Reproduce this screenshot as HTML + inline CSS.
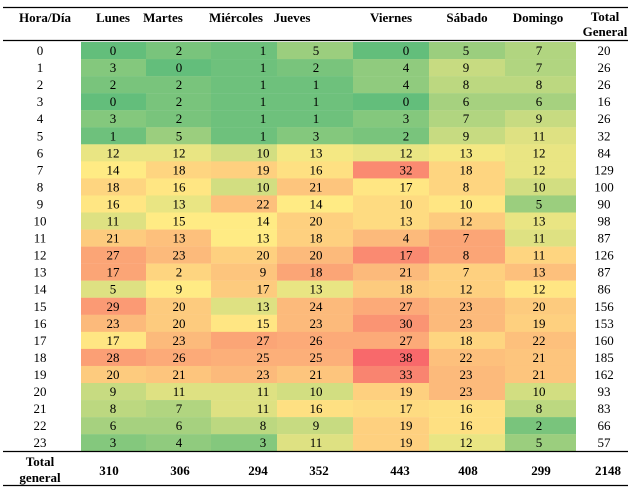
<!DOCTYPE html>
<html><head><meta charset="utf-8"><style>
body{margin:0;background:#fff}
svg{display:block;font-family:"Liberation Serif",serif;font-size:13px}
.h{font-weight:bold}
.v0{fill:rgb(99,190,123)}.v1{fill:rgb(110,193,124)}.v2{fill:rgb(121,196,124)}.v3{fill:rgb(132,200,125)}.v4{fill:rgb(144,203,126)}.v5{fill:rgb(155,206,126)}.v6{fill:rgb(166,209,127)}.v7{fill:rgb(177,213,128)}.v8{fill:rgb(188,216,128)}.v9{fill:rgb(199,219,129)}.v10{fill:rgb(210,222,129)}.v11{fill:rgb(222,225,130)}.v12{fill:rgb(233,229,131)}.v13{fill:rgb(244,232,131)}.v14{fill:rgb(255,235,132)}.v15{fill:rgb(255,230,131)}.v16{fill:rgb(254,224,130)}.v17{fill:rgb(254,219,129)}.v18{fill:rgb(254,213,128)}.v19{fill:rgb(254,208,127)}.v20{fill:rgb(253,203,126)}.v21{fill:rgb(253,197,125)}.v22{fill:rgb(253,192,124)}.v23{fill:rgb(252,186,123)}.v24{fill:rgb(252,181,122)}.v25{fill:rgb(252,175,121)}.v26{fill:rgb(252,170,120)}.v27{fill:rgb(251,165,118)}.v28{fill:rgb(251,159,117)}.v29{fill:rgb(251,154,116)}.v30{fill:rgb(250,148,115)}.v32{fill:rgb(250,138,113)}.v33{fill:rgb(249,132,112)}.v38{fill:rgb(248,105,107)}
</style></head><body>
<svg width="631" height="490" viewBox="0 0 631 490">
<g class="h" text-anchor="middle">
<text x="45" y="22">Hora/Día</text><text x="113" y="22">Lunes</text><text x="163" y="22">Martes</text><text x="236" y="22">Miércoles</text><text x="292" y="22">Jueves</text><text x="391" y="22">Viernes</text><text x="467" y="22">Sábado</text><text x="538" y="22">Domingo</text><text x="605" y="21">Total</text><text x="605" y="36">General</text>
</g>
<g text-anchor="middle">
<g transform="translate(0,42)"><rect class="v0" x="81" width="65" height="17.2"/><rect class="v2" x="146" width="65" height="17.2"/><rect class="v1" x="211" width="66" height="17.2"/><rect class="v5" x="277" width="76" height="17.2"/><rect class="v0" x="353" width="76" height="17.2"/><rect class="v5" x="429" width="76" height="17.2"/><rect class="v7" x="505" width="71" height="17.2"/><text x="40" y="13">0</text><text x="113" y="13">0</text><text x="179" y="13">2</text><text x="263" y="13">1</text><text x="316" y="13">5</text><text x="406" y="13">0</text><text x="466" y="13">5</text><text x="539" y="13">7</text><text x="604" y="13">20</text></g>
<g transform="translate(0,59.05)"><rect class="v3" x="81" width="65" height="17.2"/><rect class="v0" x="146" width="65" height="17.2"/><rect class="v1" x="211" width="66" height="17.2"/><rect class="v2" x="277" width="76" height="17.2"/><rect class="v4" x="353" width="76" height="17.2"/><rect class="v9" x="429" width="76" height="17.2"/><rect class="v7" x="505" width="71" height="17.2"/><text x="40" y="13">1</text><text x="113" y="13">3</text><text x="179" y="13">0</text><text x="263" y="13">1</text><text x="316" y="13">2</text><text x="406" y="13">4</text><text x="466" y="13">9</text><text x="539" y="13">7</text><text x="604" y="13">26</text></g>
<g transform="translate(0,76.1)"><rect class="v2" x="81" width="65" height="17.2"/><rect class="v2" x="146" width="65" height="17.2"/><rect class="v1" x="211" width="66" height="17.2"/><rect class="v1" x="277" width="76" height="17.2"/><rect class="v4" x="353" width="76" height="17.2"/><rect class="v8" x="429" width="76" height="17.2"/><rect class="v8" x="505" width="71" height="17.2"/><text x="40" y="13">2</text><text x="113" y="13">2</text><text x="179" y="13">2</text><text x="263" y="13">1</text><text x="316" y="13">1</text><text x="406" y="13">4</text><text x="466" y="13">8</text><text x="539" y="13">8</text><text x="604" y="13">26</text></g>
<g transform="translate(0,93.15)"><rect class="v0" x="81" width="65" height="17.2"/><rect class="v2" x="146" width="65" height="17.2"/><rect class="v1" x="211" width="66" height="17.2"/><rect class="v1" x="277" width="76" height="17.2"/><rect class="v0" x="353" width="76" height="17.2"/><rect class="v6" x="429" width="76" height="17.2"/><rect class="v6" x="505" width="71" height="17.2"/><text x="40" y="13">3</text><text x="113" y="13">0</text><text x="179" y="13">2</text><text x="263" y="13">1</text><text x="316" y="13">1</text><text x="406" y="13">0</text><text x="466" y="13">6</text><text x="539" y="13">6</text><text x="604" y="13">16</text></g>
<g transform="translate(0,110.2)"><rect class="v3" x="81" width="65" height="17.2"/><rect class="v2" x="146" width="65" height="17.2"/><rect class="v1" x="211" width="66" height="17.2"/><rect class="v1" x="277" width="76" height="17.2"/><rect class="v3" x="353" width="76" height="17.2"/><rect class="v7" x="429" width="76" height="17.2"/><rect class="v9" x="505" width="71" height="17.2"/><text x="40" y="13">4</text><text x="113" y="13">3</text><text x="179" y="13">2</text><text x="263" y="13">1</text><text x="316" y="13">1</text><text x="406" y="13">3</text><text x="466" y="13">7</text><text x="539" y="13">9</text><text x="604" y="13">26</text></g>
<g transform="translate(0,127.25)"><rect class="v1" x="81" width="65" height="17.2"/><rect class="v5" x="146" width="65" height="17.2"/><rect class="v1" x="211" width="66" height="17.2"/><rect class="v3" x="277" width="76" height="17.2"/><rect class="v2" x="353" width="76" height="17.2"/><rect class="v9" x="429" width="76" height="17.2"/><rect class="v11" x="505" width="71" height="17.2"/><text x="40" y="13">5</text><text x="113" y="13">1</text><text x="179" y="13">5</text><text x="263" y="13">1</text><text x="316" y="13">3</text><text x="406" y="13">2</text><text x="466" y="13">9</text><text x="539" y="13">11</text><text x="604" y="13">32</text></g>
<g transform="translate(0,144.3)"><rect class="v12" x="81" width="65" height="17.2"/><rect class="v12" x="146" width="65" height="17.2"/><rect class="v10" x="211" width="66" height="17.2"/><rect class="v13" x="277" width="76" height="17.2"/><rect class="v12" x="353" width="76" height="17.2"/><rect class="v13" x="429" width="76" height="17.2"/><rect class="v12" x="505" width="71" height="17.2"/><text x="40" y="13">6</text><text x="113" y="13">12</text><text x="179" y="13">12</text><text x="263" y="13">10</text><text x="316" y="13">13</text><text x="406" y="13">12</text><text x="466" y="13">13</text><text x="539" y="13">12</text><text x="604" y="13">84</text></g>
<g transform="translate(0,161.35)"><rect class="v14" x="81" width="65" height="17.2"/><rect class="v18" x="146" width="65" height="17.2"/><rect class="v19" x="211" width="66" height="17.2"/><rect class="v16" x="277" width="76" height="17.2"/><rect class="v32" x="353" width="76" height="17.2"/><rect class="v18" x="429" width="76" height="17.2"/><rect class="v12" x="505" width="71" height="17.2"/><text x="40" y="13">7</text><text x="113" y="13">14</text><text x="179" y="13">18</text><text x="263" y="13">19</text><text x="316" y="13">16</text><text x="406" y="13">32</text><text x="466" y="13">18</text><text x="539" y="13">12</text><text x="604" y="13">129</text></g>
<g transform="translate(0,178.4)"><rect class="v18" x="81" width="65" height="17.2"/><rect class="v15" x="146" width="65" height="17.2"/><rect class="v10" x="211" width="66" height="17.2"/><rect class="v21" x="277" width="76" height="17.2"/><rect class="v15" x="353" width="76" height="17.2"/><rect class="v18" x="429" width="76" height="17.2"/><rect class="v10" x="505" width="71" height="17.2"/><text x="40" y="13">8</text><text x="113" y="13">18</text><text x="179" y="13">16</text><text x="263" y="13">10</text><text x="316" y="13">21</text><text x="406" y="13">17</text><text x="466" y="13">8</text><text x="539" y="13">10</text><text x="604" y="13">100</text></g>
<g transform="translate(0,195.45)"><rect class="v15" x="81" width="65" height="17.2"/><rect class="v12" x="146" width="65" height="17.2"/><rect class="v22" x="211" width="66" height="17.2"/><rect class="v14" x="277" width="76" height="17.2"/><rect class="v17" x="353" width="76" height="17.2"/><rect class="v15" x="429" width="76" height="17.2"/><rect class="v5" x="505" width="71" height="17.2"/><text x="40" y="13">9</text><text x="113" y="13">16</text><text x="179" y="13">13</text><text x="263" y="13">22</text><text x="316" y="13">14</text><text x="406" y="13">10</text><text x="466" y="13">10</text><text x="539" y="13">5</text><text x="604" y="13">90</text></g>
<g transform="translate(0,212.5)"><rect class="v11" x="81" width="65" height="17.2"/><rect class="v14" x="146" width="65" height="17.2"/><rect class="v14" x="211" width="66" height="17.2"/><rect class="v19" x="277" width="76" height="17.2"/><rect class="v17" x="353" width="76" height="17.2"/><rect class="v20" x="429" width="76" height="17.2"/><rect class="v12" x="505" width="71" height="17.2"/><text x="40" y="13">10</text><text x="113" y="13">11</text><text x="179" y="13">15</text><text x="263" y="13">14</text><text x="316" y="13">20</text><text x="406" y="13">13</text><text x="466" y="13">12</text><text x="539" y="13">13</text><text x="604" y="13">98</text></g>
<g transform="translate(0,229.55)"><rect class="v20" x="81" width="65" height="17.2"/><rect class="v22" x="146" width="65" height="17.2"/><rect class="v14" x="211" width="66" height="17.2"/><rect class="v19" x="277" width="76" height="17.2"/><rect class="v23" x="353" width="76" height="17.2"/><rect class="v27" x="429" width="76" height="17.2"/><rect class="v11" x="505" width="71" height="17.2"/><text x="40" y="13">11</text><text x="113" y="13">21</text><text x="179" y="13">13</text><text x="263" y="13">13</text><text x="316" y="13">18</text><text x="406" y="13">4</text><text x="466" y="13">7</text><text x="539" y="13">11</text><text x="604" y="13">87</text></g>
<g transform="translate(0,246.6)"><rect class="v27" x="81" width="65" height="17.2"/><rect class="v23" x="146" width="65" height="17.2"/><rect class="v19" x="211" width="66" height="17.2"/><rect class="v23" x="277" width="76" height="17.2"/><rect class="v32" x="353" width="76" height="17.2"/><rect class="v27" x="429" width="76" height="17.2"/><rect class="v18" x="505" width="71" height="17.2"/><text x="40" y="13">12</text><text x="113" y="13">27</text><text x="179" y="13">23</text><text x="263" y="13">20</text><text x="316" y="13">20</text><text x="406" y="13">17</text><text x="466" y="13">8</text><text x="539" y="13">11</text><text x="604" y="13">126</text></g>
<g transform="translate(0,263.65)"><rect class="v27" x="81" width="65" height="17.2"/><rect class="v18" x="146" width="65" height="17.2"/><rect class="v21" x="211" width="66" height="17.2"/><rect class="v27" x="277" width="76" height="17.2"/><rect class="v23" x="353" width="76" height="17.2"/><rect class="v19" x="429" width="76" height="17.2"/><rect class="v22" x="505" width="71" height="17.2"/><text x="40" y="13">13</text><text x="113" y="13">17</text><text x="179" y="13">2</text><text x="263" y="13">9</text><text x="316" y="13">18</text><text x="406" y="13">21</text><text x="466" y="13">7</text><text x="539" y="13">13</text><text x="604" y="13">87</text></g>
<g transform="translate(0,280.7)"><rect class="v11" x="81" width="65" height="17.2"/><rect class="v14" x="146" width="65" height="17.2"/><rect class="v20" x="211" width="66" height="17.2"/><rect class="v12" x="277" width="76" height="17.2"/><rect class="v20" x="353" width="76" height="17.2"/><rect class="v19" x="429" width="76" height="17.2"/><rect class="v15" x="505" width="71" height="17.2"/><text x="40" y="13">14</text><text x="113" y="13">5</text><text x="179" y="13">9</text><text x="263" y="13">17</text><text x="316" y="13">13</text><text x="406" y="13">18</text><text x="466" y="13">12</text><text x="539" y="13">12</text><text x="604" y="13">86</text></g>
<g transform="translate(0,297.75)"><rect class="v29" x="81" width="65" height="17.2"/><rect class="v20" x="146" width="65" height="17.2"/><rect class="v11" x="211" width="66" height="17.2"/><rect class="v23" x="277" width="76" height="17.2"/><rect class="v26" x="353" width="76" height="17.2"/><rect class="v23" x="429" width="76" height="17.2"/><rect class="v20" x="505" width="71" height="17.2"/><text x="40" y="13">15</text><text x="113" y="13">29</text><text x="179" y="13">20</text><text x="263" y="13">13</text><text x="316" y="13">24</text><text x="406" y="13">27</text><text x="466" y="13">23</text><text x="539" y="13">20</text><text x="604" y="13">156</text></g>
<g transform="translate(0,314.8)"><rect class="v23" x="81" width="65" height="17.2"/><rect class="v20" x="146" width="65" height="17.2"/><rect class="v15" x="211" width="66" height="17.2"/><rect class="v23" x="277" width="76" height="17.2"/><rect class="v30" x="353" width="76" height="17.2"/><rect class="v23" x="429" width="76" height="17.2"/><rect class="v19" x="505" width="71" height="17.2"/><text x="40" y="13">16</text><text x="113" y="13">23</text><text x="179" y="13">20</text><text x="263" y="13">15</text><text x="316" y="13">23</text><text x="406" y="13">30</text><text x="466" y="13">23</text><text x="539" y="13">19</text><text x="604" y="13">153</text></g>
<g transform="translate(0,331.85)"><rect class="v15" x="81" width="65" height="17.2"/><rect class="v23" x="146" width="65" height="17.2"/><rect class="v27" x="211" width="66" height="17.2"/><rect class="v26" x="277" width="76" height="17.2"/><rect class="v26" x="353" width="76" height="17.2"/><rect class="v18" x="429" width="76" height="17.2"/><rect class="v22" x="505" width="71" height="17.2"/><text x="40" y="13">17</text><text x="113" y="13">17</text><text x="179" y="13">23</text><text x="263" y="13">27</text><text x="316" y="13">26</text><text x="406" y="13">27</text><text x="466" y="13">18</text><text x="539" y="13">22</text><text x="604" y="13">160</text></g>
<g transform="translate(0,348.9)"><rect class="v28" x="81" width="65" height="17.2"/><rect class="v26" x="146" width="65" height="17.2"/><rect class="v25" x="211" width="66" height="17.2"/><rect class="v25" x="277" width="76" height="17.2"/><rect class="v38" x="353" width="76" height="17.2"/><rect class="v22" x="429" width="76" height="17.2"/><rect class="v21" x="505" width="71" height="17.2"/><text x="40" y="13">18</text><text x="113" y="13">28</text><text x="179" y="13">26</text><text x="263" y="13">25</text><text x="316" y="13">25</text><text x="406" y="13">38</text><text x="466" y="13">22</text><text x="539" y="13">21</text><text x="604" y="13">185</text></g>
<g transform="translate(0,365.95)"><rect class="v20" x="81" width="65" height="17.2"/><rect class="v21" x="146" width="65" height="17.2"/><rect class="v23" x="211" width="66" height="17.2"/><rect class="v21" x="277" width="76" height="17.2"/><rect class="v33" x="353" width="76" height="17.2"/><rect class="v23" x="429" width="76" height="17.2"/><rect class="v21" x="505" width="71" height="17.2"/><text x="40" y="13">19</text><text x="113" y="13">20</text><text x="179" y="13">21</text><text x="263" y="13">23</text><text x="316" y="13">21</text><text x="406" y="13">33</text><text x="466" y="13">23</text><text x="539" y="13">21</text><text x="604" y="13">162</text></g>
<g transform="translate(0,383)"><rect class="v9" x="81" width="65" height="17.2"/><rect class="v11" x="146" width="65" height="17.2"/><rect class="v11" x="211" width="66" height="17.2"/><rect class="v10" x="277" width="76" height="17.2"/><rect class="v19" x="353" width="76" height="17.2"/><rect class="v23" x="429" width="76" height="17.2"/><rect class="v10" x="505" width="71" height="17.2"/><text x="40" y="13">20</text><text x="113" y="13">9</text><text x="179" y="13">11</text><text x="263" y="13">11</text><text x="316" y="13">10</text><text x="406" y="13">19</text><text x="466" y="13">23</text><text x="539" y="13">10</text><text x="604" y="13">93</text></g>
<g transform="translate(0,400.05)"><rect class="v8" x="81" width="65" height="17.2"/><rect class="v7" x="146" width="65" height="17.2"/><rect class="v11" x="211" width="66" height="17.2"/><rect class="v16" x="277" width="76" height="17.2"/><rect class="v17" x="353" width="76" height="17.2"/><rect class="v16" x="429" width="76" height="17.2"/><rect class="v8" x="505" width="71" height="17.2"/><text x="40" y="13">21</text><text x="113" y="13">8</text><text x="179" y="13">7</text><text x="263" y="13">11</text><text x="316" y="13">16</text><text x="406" y="13">17</text><text x="466" y="13">16</text><text x="539" y="13">8</text><text x="604" y="13">83</text></g>
<g transform="translate(0,417.1)"><rect class="v6" x="81" width="65" height="17.2"/><rect class="v6" x="146" width="65" height="17.2"/><rect class="v8" x="211" width="66" height="17.2"/><rect class="v9" x="277" width="76" height="17.2"/><rect class="v19" x="353" width="76" height="17.2"/><rect class="v16" x="429" width="76" height="17.2"/><rect class="v2" x="505" width="71" height="17.2"/><text x="40" y="13">22</text><text x="113" y="13">6</text><text x="179" y="13">6</text><text x="263" y="13">8</text><text x="316" y="13">9</text><text x="406" y="13">19</text><text x="466" y="13">16</text><text x="539" y="13">2</text><text x="604" y="13">66</text></g>
<g transform="translate(0,434.15)"><rect class="v3" x="81" width="65" height="17.2"/><rect class="v4" x="146" width="65" height="17.2"/><rect class="v3" x="211" width="66" height="17.2"/><rect class="v11" x="277" width="76" height="17.2"/><rect class="v19" x="353" width="76" height="17.2"/><rect class="v12" x="429" width="76" height="17.2"/><rect class="v5" x="505" width="71" height="17.2"/><text x="40" y="13">23</text><text x="113" y="13">3</text><text x="179" y="13">4</text><text x="263" y="13">3</text><text x="316" y="13">11</text><text x="406" y="13">19</text><text x="466" y="13">12</text><text x="539" y="13">5</text><text x="604" y="13">57</text></g>
</g>
<g class="h" text-anchor="middle">
<text x="40" y="466">Total</text><text x="40" y="482">general</text>
<text x="109" y="475">310</text><text x="180" y="475">306</text><text x="258" y="475">294</text><text x="319" y="475">352</text><text x="400" y="475">443</text><text x="468" y="475">408</text><text x="541" y="475">299</text><text x="608" y="475">2148</text>
</g>
<g stroke="#000" stroke-width="1.3">
<line x1="3" y1="7.5" x2="628" y2="7.5"/><line x1="3" y1="40.5" x2="628" y2="40.5"/><line x1="3" y1="451.5" x2="628" y2="451.5"/><line x1="3" y1="485.5" x2="628" y2="485.5"/>
</g>
</svg>
</body></html>
